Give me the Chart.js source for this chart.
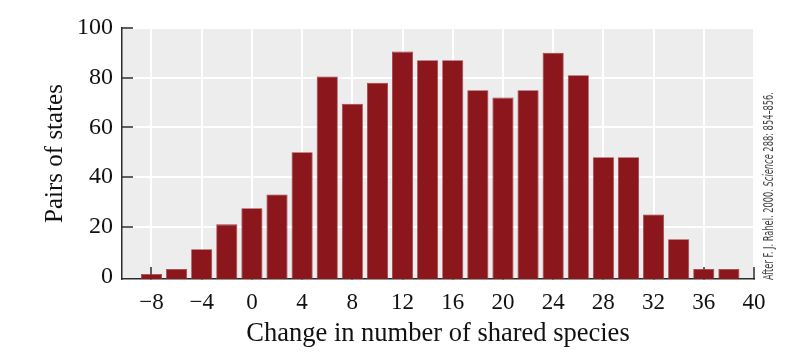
<!DOCTYPE html>
<html><head><meta charset="utf-8">
<script src="https://cdn.jsdelivr.net/npm/chart.js@4.4.1/dist/chart.umd.min.js"></script>
<style>html,body{margin:0;padding:0;background:#fff}#wrap{width:800px;height:358px}</style>
</head><body><div id="wrap"><canvas id="c" width="800" height="358"></canvas></div>
<script>
// ---- data ----
const binCenters = [-8,-6,-4,-2,0,2,4,6,8,10,12,14,16,18,20,22,24,26,28,30,32,34,36,38];
const pairCounts = [1,3,11,21,27.5,33,50,80.5,69.5,78,90.5,87,87,75,72,75,90,81,48,48,25,15,3,3];
const xTickValues = [-8,-4,0,4,8,12,16,20,24,28,32,36,40];
const yTickValues = [0,20,40,60,80,100];
const xTitle = 'Change in number of shared species';
const yTitle = 'Pairs of states';
const creditParts = [['After F. J. Rahel. 2000. ', false], ['Science', true], [' 288: 854\u2013856.', false]];
const X_MIN = -10.35, X_MAX = 40, Y_MIN = -1, Y_MAX = 100;

// ---- style ----
const SERIF = "'Liberation Serif','Times New Roman',serif";
const BAR = '#8b161c';
const DARK = '#2b2b2b';

const bgPlugin = {
  id: 'bg',
  beforeDraw(chart) {
    const {ctx, chartArea: a} = chart;
    ctx.save();
    ctx.fillStyle = '#ededed';
    ctx.fillRect(a.left, a.top, a.right - a.left, a.bottom - a.top);
    ctx.restore();
  }
};
const creditPlugin = {
  id: 'credit',
  afterDraw(chart) {
    const {ctx, chartArea: a} = chart;
    const fam = "'Liberation Sans Narrow','DejaVu Sans Condensed','Liberation Sans',sans-serif";
    ctx.save();
    ctx.translate(a.right + 19, a.bottom + 1);
    ctx.rotate(-Math.PI / 2);
    let total = 0;
    const widths = creditParts.map(([t, it]) => {
      ctx.font = (it ? 'italic ' : '') + '14px ' + fam;
      const w = ctx.measureText(t).width; total += w; return w;
    });
    ctx.scale(188 / total, 1);
    ctx.fillStyle = '#444';
    ctx.textBaseline = 'alphabetic';
    ctx.textAlign = 'left';
    let x = 0;
    creditParts.forEach(([t, it], i) => {
      ctx.font = (it ? 'italic ' : '') + '14px ' + fam;
      ctx.fillText(t, x, 0);
      x += widths[i];
    });
    ctx.restore();
  }
};

const hideZero = (c, col) => (c.tick && c.tick.value === 0) ? 'rgba(0,0,0,0)' : col;

new Chart(document.getElementById('c'), {
  type: 'bar',
  data: {
    datasets: [{
      data: binCenters.map((x, i) => ({x: x, y: pairCounts[i]})),
      backgroundColor: BAR,
      borderColor: '#a03a40',
      borderWidth: 0.8,
      base: Y_MIN,
      categoryPercentage: 1,
      barPercentage: 0.84
    }]
  },
  options: {
    responsive: false,
    animation: false,
    devicePixelRatio: 1,
    layout: {padding: {top: 28, right: 46, left: 0, bottom: 0}},
    plugins: {legend: {display: false}, tooltip: {enabled: false}},
    scales: {
      x: {
        type: 'linear',
        offset: false,
        min: X_MIN, max: X_MAX,
        afterBuildTicks: s => { s.ticks = xTickValues.map(v => ({value: v})); },
        afterFit: s => { s.height = 79; s.paddingLeft = 0; s.paddingRight = 0; s.paddingTop = 0; s.paddingBottom = 0; },
        grid: {offset: false, color: '#ffffff', lineWidth: 2, drawTicks: true, tickLength: -12, tickColor: DARK, tickWidth: 1.5},
        border: {display: true, color: DARK, width: 1.5},
        ticks: {
          padding: 22,
          color: '#111',
          font: {family: SERIF, size: 23},
          maxRotation: 0,
          autoSkip: false,
          callback: v => String(v).replace('-', '\u2212')
        },
        title: {display: true, text: xTitle, color: '#111', font: {family: SERIF, size: 26.5}, padding: {top: 0, bottom: 8}}
      },
      y: {
        min: Y_MIN, max: Y_MAX,
        afterBuildTicks: s => { s.ticks = yTickValues.map(v => ({value: v})); },
        afterFit: s => { s.width = 122; s.paddingLeft = 0; s.paddingRight = 0; s.paddingTop = 0; s.paddingBottom = 0; },
        grid: {
          color: c => hideZero(c, '#ffffff'), lineWidth: 2, drawTicks: true, tickLength: -11,
          tickColor: c => hideZero(c, DARK), tickWidth: 1.5
        },
        border: {display: true, color: DARK, width: 1.5},
        ticks: {padding: 20, color: '#111', font: {family: SERIF, size: 24}},
        title: {display: true, text: yTitle, color: '#111', font: {family: SERIF, size: 25}, padding: {top: 40, bottom: 0}}
      }
    }
  },
  plugins: [bgPlugin, creditPlugin]
});
</script>
</body></html>
